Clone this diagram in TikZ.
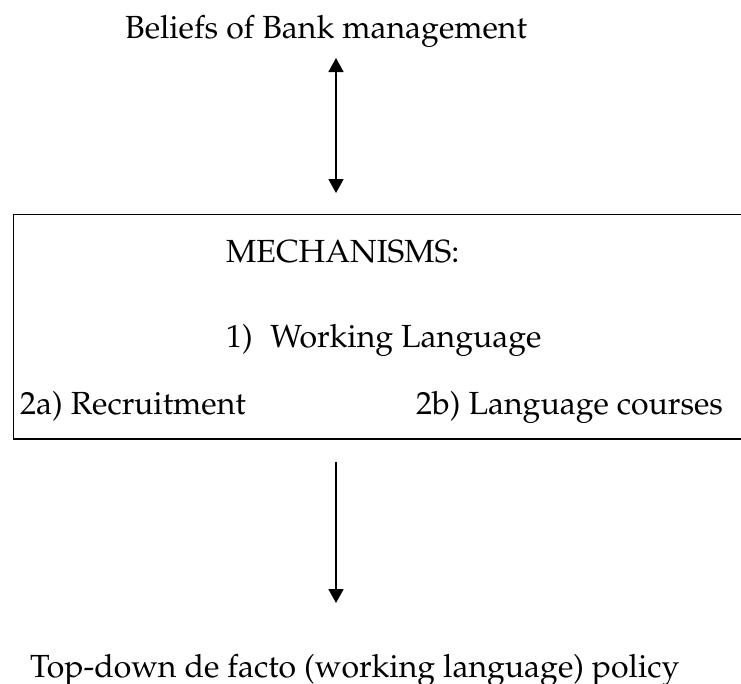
\documentclass[tikz,border=0pt]{standalone}
\usepackage[T1]{fontenc}
\usepackage{mathpazo}
\usetikzlibrary{arrows.meta}
\tikzset{
  lbl/.style={inner sep=0pt, anchor=base west, font=\fontsize{32}{38}\selectfont},
  conn/.style={line width=1.8pt, -{Triangle[width=15pt,length=14pt]}},
  biconn/.style={line width=1.8pt, {Triangle[width=15pt,length=14pt]}-{Triangle[width=15pt,length=14pt]}},
  frame/.style={line width=1.8pt}
}
\begin{document}
\begin{tikzpicture}[x=1pt,y=-1pt]
\useasboundingbox (0,0) rectangle (741,683);
% open-ended mechanisms frame
\draw[frame] (760,214.5) -- (13.5,214.5) -- (13.5,439) -- (760,439);
\node[lbl] (beliefs) at (125,38) {Beliefs of Bank management};
\node[lbl] (mech) at (226,262) {MECHANISMS:};
\node[lbl] (wl) at (226,347) {1)\hspace{0.55em}Working Language};
\node[lbl] (rec) at (20,414) {2a) Recruitment};
\node[lbl] (courses) at (416,414) {2b) Language courses};
\node[lbl] (policy) at (30,677) {Top-down de facto (working language) policy};
\coordinate (u1) at (336,58);
\coordinate (u2) at (336,193);
\coordinate (d1) at (336,462);
\coordinate (d2) at (336,603);
\draw[biconn] (u1) -- (u2);
\draw[conn] (d1) -- (d2);
\end{tikzpicture}
\end{document}
